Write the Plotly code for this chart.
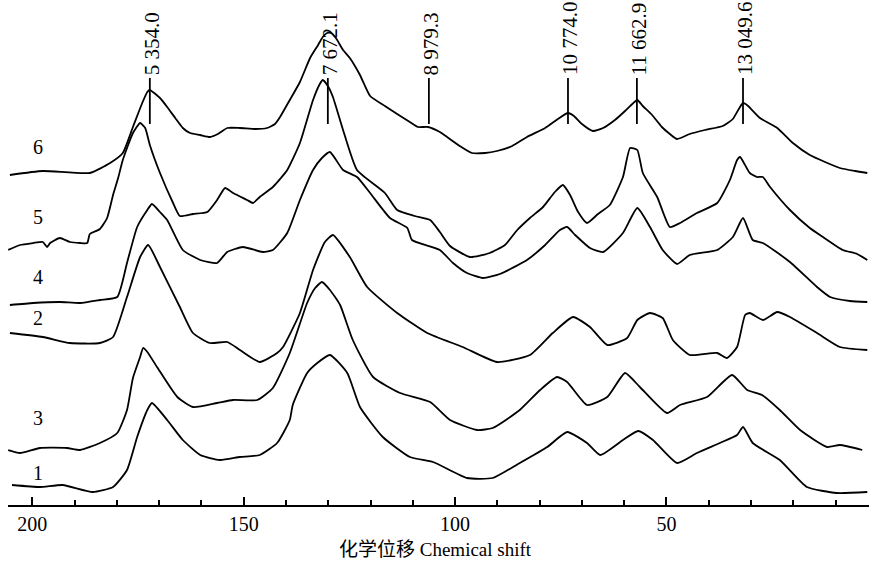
import plotly.graph_objects as go

# ---- data (ppm, stacked intensity in a.u.) ----
spec6 = [(205.3,330),(197.5,334),(186.4,332),(181.6,342),(178.6,352),(176.2,378),(174.0,402),(172.8,413),
         (172.2,415),(171.5,413),(169.8,407),(168.1,398),(166.2,387),(164.4,377),(162.7,372),(160.3,370),
         (158.0,368),(156.1,371),(153.9,377),(150.9,377),(147.3,376),(144.5,377),(142.6,381),(141.4,388),
         (139.1,405),(136.7,423),(134.3,447),(132.4,460),(131.3,468),(130.3,472),(129.4,472),(128.2,467),
         (126.5,455),(124.9,447),(122.5,430),(120.1,409),(116.6,399),(113.7,391),(110.7,383),(108.8,378),
         (106.4,378),(103.6,373),(101.9,368),(98.9,359),(96.0,352),(92.9,352),(90.1,354),(86.5,359),
         (83.0,368),(78.7,377),(75.7,386),(73.3,392),(71.9,389),(70.0,381),(67.4,374),(65.0,377),
         (62.2,385),(59.8,394),(58.1,401),(56.9,405),(55.6,399),(53.4,390),(51.1,378),(49.2,371),
         (47.5,366),(44.5,371),(40.9,375),(36.7,379),(34.3,386),(32.9,396),(31.9,402),(30.7,399),
         (27.9,387),(23.8,377),(20.1,362),(16.1,350),(12.5,343),(9.0,337),(5.4,334),(2.5,332)]

spec5 = [(205.7,255),(202.9,260),(199.8,262),(197.5,263),(196.5,258),(195.8,262),(193.5,267),(191.1,263),
         (188.7,262),(187.0,262),(186.4,271),(184.0,276),(182.3,287),(180.9,310),(179.7,327),(178.6,345),
         (176.2,372),(174.5,382),(173.3,377),(172.2,360),(169.8,332),(166.7,302),(165.1,289),(162.0,291),
         (158.6,293),(156.3,305),(154.4,317),(152.5,312),(149.2,305),(147.8,302),(146.2,308),(143.1,318),
         (139.7,335),(136.7,362),(133.6,405),(132.0,421),(131.3,425),(130.1,419),(128.9,408),(126.5,375),
         (123.2,335),(116.6,312),(113.7,295),(109.5,289),(105.9,285),(103.6,273),(101.2,259),(96.5,248),
         (91.8,252),(88.2,260),(85.3,275),(82.3,287),(79.2,298),(76.4,313),(74.5,320),(72.8,310),
         (70.9,293),(68.8,282),(66.2,291),(63.4,300),(60.3,328),(58.6,357),(56.9,355),(55.6,332),
         (52.2,308),(49.2,278),(46.8,282),(42.8,292),(38.0,302),(35.0,325),(33.3,345),(32.6,348),
         (30.3,332),(28.6,328),(27.2,328),(25.5,318),(20.8,295),(16.1,277),(13.0,268),(8.3,255),
         (4.9,251),(2.5,245)]

spec4 = [(205.3,200),(199.8,202),(193.5,203),(188.7,202),(184.0,205),(179.9,208),(177.6,242),(175.2,278),
         (172.8,295),(171.7,301),(169.8,293),(168.1,285),(164.4,255),(160.3,245),(156.3,242),(153.9,253),
         (150.2,258),(145.5,253),(143.1,255),(139.7,272),(136.7,305),(133.6,335),(131.5,347),(129.6,353),
         (126.5,335),(123.2,328),(120.1,312),(115.4,287),(111.3,277),(110.2,265),(103.6,255),(100.5,242),
         (97.2,232),(93.4,227),(89.4,231),(83.0,245),(78.7,260),(75.2,275),(73.5,278),(71.6,270),
         (68.1,257),(65.0,253),(60.3,272),(56.9,297),(53.9,278),(50.9,255),(47.5,241),(44.5,250),
         (38.0,255),(34.3,268),(31.9,287),(29.6,265),(27.2,262),(20.8,243),(14.4,218),(11.3,208),
         (6.6,204),(2.5,203)]

spec2 = [(205.3,172),(197.5,168),(191.1,162),(184.0,162),(180.9,168),(177.6,208),(174.5,248),(172.6,260),
         (169.8,238),(165.1,198),(162.0,172),(158.0,162),(153.9,163),(150.9,155),(146.2,143),(142.1,152),
         (140.7,158),(136.7,192),(133.6,235),(130.8,263),(128.9,270),(124.9,248),(120.8,218),(113.7,192),
         (106.6,172),(98.2,158),(90.1,143),(82.3,150),(76.9,172),(72.1,188),(68.1,178),(64.0,160),
         (59.3,167),(56.9,185),(53.9,192),(50.9,187),(48.5,165),(44.5,150),(38.0,152),(35.7,147),
         (33.3,158),(31.4,190),(30.3,192),(27.2,185),(23.8,193),(20.8,188),(14.4,172),(9.0,158),(2.5,155)]

spec3 = [(205.7,55),(202.9,52),(198.2,57),(191.8,57),(188.7,55),(184.0,62),(179.9,72),(177.6,95),
         (176.2,127),(174.5,148),(173.8,157),(172.8,153),(170.5,138),(165.7,108),(162.0,98),(156.3,102),
         (152.5,105),(146.8,105),(143.1,117),(139.1,152),(135.0,202),(133.1,217),(131.5,223),(129.6,215),
         (127.2,200),(124.2,165),(119.4,128),(113.0,112),(105.9,103),(101.2,85),(94.8,75),(91.1,77),
         (84.7,95),(79.9,115),(75.9,128),(73.5,123),(68.8,100),(64.0,108),(59.8,132),(56.3,118),
         (49.9,92),(46.8,100),(40.4,108),(34.5,130),(30.9,115),(27.4,110),(23.2,95),(18.4,75),
         (12.0,58),(9.0,60),(3.7,55)]

spec1 = [(204.8,20),(198.2,18),(192.8,20),(185.7,13),(180.9,18),(177.6,35),(175.2,68),(172.8,95),
         (171.7,102),(168.1,85),(164.4,65),(160.3,50),(155.6,45),(150.9,48),(146.2,50),(142.1,62),
         (139.1,85),(138.4,100),(135.0,132),(132.6,142),(129.6,150),(125.5,132),(122.5,98),(117.1,68),
         (110.7,48),(105.2,43),(97.2,27),(91.1,27),(84.7,42),(78.2,58),(73.5,73),(68.8,62),
         (65.7,50),(60.3,65),(56.7,74),(53.2,65),(47.5,42),(42.8,52),(37.4,62),(33.3,70),
         (31.9,78),(29.6,62),(23.2,45),(16.8,18),(9.7,12),(2.5,13)]

spectra = [spec6, spec5, spec4, spec2, spec3, spec1]

curve_names = ["6", "5", "4", "2", "3", "1"]
curve_label_y = [358, 288, 228, 187, 87, 32]
curve_label_x = 198.7

peak_ppm = [172.2, 130.1, 106.2, 73.3, 57.0, 31.9]
peak_text = ["5 354.0", "7 672.1", "8 979.3", "10 774.0", "11 662.9", "13 049.6"]
marker_low, marker_high = 381, 427

x_ticks = [200, 150, 100, 50]
x_range = [205.75, 2.1]

SERIF = "Liberation Serif, Times New Roman, Noto Sans CJK SC, serif"

fig = go.Figure()
for name, spec in zip(curve_names, spectra):
    fig.add_trace(go.Scatter(
        x=[p[0] for p in spec], y=[p[1] for p in spec], mode="lines",
        line=dict(color="black", width=1.8, shape="spline", smoothing=0.5),
        name=name, showlegend=False, hoverinfo="skip"))

for name, yv in zip(curve_names, curve_label_y):
    fig.add_annotation(x=curve_label_x, y=yv, text=name, showarrow=False,
                       font=dict(family=SERIF, size=20, color="black"),
                       xanchor="center", yanchor="middle")

for px, txt in zip(peak_ppm, peak_text):
    fig.add_shape(type="line", x0=px, x1=px, y0=marker_low, y1=marker_high,
                  line=dict(color="black", width=1.8))
    fig.add_annotation(x=px, y=marker_high, text=txt, textangle=-90, showarrow=False,
                       font=dict(family=SERIF, size=21, color="black"),
                       xanchor="center", yanchor="bottom", xshift=2, yshift=1)

fig.add_annotation(x=0.496, y=-0.089, xref="paper", yref="paper",
                   text="化学位移 Chemical shift", showarrow=False,
                   font=dict(family=SERIF, size=19, color="black"),
                   xanchor="center", yanchor="middle")

fig.update_layout(
    width=869, height=562,
    margin=dict(l=8, r=0, t=0, b=57),
    plot_bgcolor="white", paper_bgcolor="white",
    xaxis=dict(range=x_range, tickvals=x_ticks, ticks="inside", ticklen=8, tickwidth=1.5,
               tickcolor="black", showline=True, linecolor="black", linewidth=2,
               showgrid=False, zeroline=False,
               tickfont=dict(family=SERIF, size=20, color="black"),
               minor=dict(dtick=10, tick0=0, ticks="inside", ticklen=5, tickwidth=1.5,
                          tickcolor="black", showgrid=False)),
    yaxis=dict(range=[0, 505], visible=False, showgrid=False, zeroline=False),
)

fig.write_html("out.html", config={"displayModeBar": False},
               post_script="document.body.style.margin='0';document.body.style.overflow='hidden';")
